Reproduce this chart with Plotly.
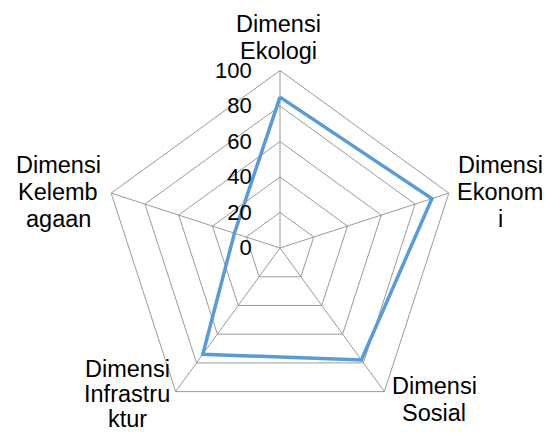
import plotly.graph_objects as go

categories = ["Dimensi Ekologi", "Dimensi Ekonomi", "Dimensi Sosial",
              "Dimensi Infrastruktur", "Dimensi Kelembagaan"]
values = [85, 90, 78, 74, 27]
label_lines = [["Dimensi", "Ekologi"], ["Dimensi", "Ekonom", "i"],
               ["Dimensi", "Sosial"], ["Dimensi", "Infrastru", "ktur"],
               ["Dimensi", "Kelemb", "agaan"]]
tick_vals = [0, 20, 40, 60, 80, 100]

W, H = 551, 434
cx, cy, R = 280, 248, 177.5
# label anchor positions (pixel) for first line, and line gap, per category
label_pos = [(278, 23.5), (500, 165), (434, 386), (127, 369), (58, 164.5)]
label_gap = [27.2, 27.2, 27.2, 25.0, 27.2]

FONT = "Liberation Sans, Arial, sans-serif"
grid = "#9a9a9a"

fig = go.Figure()
fig.add_trace(go.Scatterpolar(
    r=values + values[:1], theta=categories + categories[:1],
    mode="lines", line=dict(color="#5B9BD5", width=3.5),
    showlegend=False, hoverinfo="skip"))

annotations = []
for (px, py), gap, lines in zip(label_pos, label_gap, label_lines):
    for i, t in enumerate(lines):
        annotations.append(dict(
            x=px / W, y=1 - (py + i * gap) / H, xref="paper", yref="paper",
            text=t, showarrow=False, xanchor="center", yanchor="middle",
            font=dict(family=FONT, size=23.5, color="#000000")))

fig.update_layout(
    width=W, height=H, margin=dict(l=0, r=0, t=0, b=0),
    paper_bgcolor="white", plot_bgcolor="white",
    font=dict(family=FONT, color="#000000"),
    annotations=annotations,
    polar=dict(
        domain=dict(x=[(cx - R) / W, (cx + R) / W], y=[1 - (cy + R) / H, 1 - (cy - R) / H]),
        bgcolor="white",
        gridshape="linear",
        angularaxis=dict(rotation=90, direction="clockwise", showticklabels=False,
                         ticks="", showline=True, linecolor=grid, linewidth=1,
                         gridcolor=grid, gridwidth=1),
        radialaxis=dict(range=[0, 100], tickvals=tick_vals, angle=90,
                        tickangle=90, showline=False, gridcolor=grid, gridwidth=1,
                        ticks="outside", ticklen=20, tickcolor="rgba(0,0,0,0)",
                        tickfont=dict(family=FONT, size=22, color="#000000"),
                        side="counterclockwise"),
    ),
)
fig.write_html("out.html")
